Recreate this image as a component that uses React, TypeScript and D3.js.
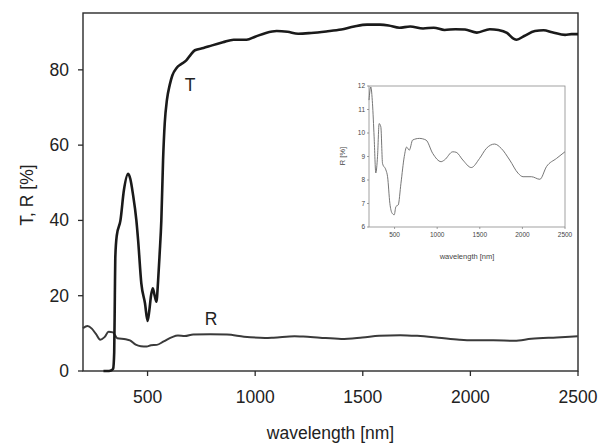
import React from "react";
import * as d3 from "d3";

const tWave = [295, 320, 335, 340, 345, 348, 350, 357, 374, 390, 410, 420, 432, 448, 456, 471, 488, 500, 508, 516, 524, 533, 541, 549, 556, 564, 572, 580, 590, 603, 615, 635, 655, 680, 700, 720, 760, 800, 850, 900, 960, 1000, 1050, 1100, 1150, 1200, 1260, 1330, 1400, 1460, 1520, 1580, 1620, 1670, 1720, 1780, 1830, 1880, 1930, 1975, 2030, 2090, 2130, 2170, 2200, 2215, 2250, 2300, 2340, 2380, 2440, 2470, 2500];
const tVal = [0, 0, 0.3, 0.6, 5, 20, 30, 36, 40, 48, 52.4, 51, 47, 40, 34.8, 23.3, 18, 13.3, 16, 20, 22, 20, 18.4, 24, 31, 40, 56, 66, 72, 76, 78.5, 80.5, 81.5, 82.5, 84, 85.2, 85.8, 86.5, 87.3, 88, 88, 88.8, 89.8, 90.3, 90.1, 89.6, 89.8, 90.2, 90.7, 91.5, 92, 92, 91.8, 91.2, 91.5, 91, 91.2, 90.6, 90.8, 90.7, 89.9, 90.8, 90.6, 89.8, 88.3, 88, 89, 90.3, 90.5, 90, 89.3, 89.5, 89.5];

const rWave = [200, 221, 241, 260, 280, 300, 319, 339, 359, 398, 418, 445, 469, 496, 516, 543, 575, 614, 641, 673, 712, 791, 869, 948, 1046, 1085, 1183, 1223, 1301, 1400, 1498, 1576, 1674, 1753, 1851, 1949, 2008, 2106, 2205, 2283, 2401, 2499];
const rVal = [11.4, 11.96, 11.25, 9.84, 8.3, 9.0, 10.4, 10.26, 8.7, 8.43, 8.14, 7.0, 6.6, 6.52, 6.87, 6.94, 7.86, 9.0, 9.4, 9.27, 9.7, 9.77, 9.7, 9.13, 8.78, 8.85, 9.2, 9.18, 8.85, 8.53, 8.92, 9.34, 9.53, 9.34, 8.85, 8.29, 8.14, 8.14, 8.03, 8.57, 8.92, 9.2];

const mainXTicks = [500, 1000, 1500, 2000, 2500];
const mainYTicks = [0, 20, 40, 60, 80];
const insetXTicks = [500, 1000, 1500, 2000, 2500];
const insetYTicks = [6, 7, 8, 9, 10, 11, 12];

const FONT = "'Liberation Sans', Arial, sans-serif";

export default function App() {
  const x = d3.scaleLinear().domain([200, 2500]).range([83, 578]);
  const y = d3.scaleLinear().domain([0, 95.1]).range([371, 13]);
  const ix = d3.scaleLinear().domain([200, 2500]).range([369, 565]);
  const iy = d3.scaleLinear().domain([6, 12]).range([227, 86]);

  const tPts: [number, number][] = tWave.map((w, i) => [w, tVal[i]]);
  const rPts: [number, number][] = rWave.map((w, i) => [w, rVal[i]]);

  const lineMain = d3.line<[number, number]>().x(d => x(d[0])).y(d => y(d[1])).curve(d3.curveMonotoneX);
  const lineInset = d3.line<[number, number]>().x(d => ix(d[0])).y(d => iy(d[1])).curve(d3.curveMonotoneX);

  const axisColor = "#2a2a2a";
  const [x0, x1] = x.range();
  const [y0, y1] = y.range();

  return (
    <svg width={601} height={443} style={{ position: "absolute", left: 0, top: 0, background: "#fff" }} fontFamily={FONT}>
      <rect width={601} height={443} fill="#fff" />
      {/* main frame */}
      <rect x={x0} y={y1} width={x1 - x0} height={y0 - y1} fill="none" stroke={axisColor} strokeWidth={1.4} />
      {mainXTicks.map(t => (
        <g key={"mx" + t}>
          <line x1={x(t)} x2={x(t)} y1={y0} y2={y0 + 5} stroke={axisColor} strokeWidth={1.3} />
          <text x={x(t)} y={y0 + 32} textAnchor="middle" fontSize={17.5} fill="#222">{t}</text>
        </g>
      ))}
      {mainYTicks.map(t => (
        <g key={"my" + t}>
          <line x1={x0 - 5} x2={x0} y1={y(t)} y2={y(t)} stroke={axisColor} strokeWidth={1.3} />
          <text x={x0 - 14} y={y(t) + 6} textAnchor="end" fontSize={17.5} fill="#222">{t}</text>
        </g>
      ))}
      <text x={(x0 + x1) / 2} y={439} textAnchor="middle" fontSize={17.5} fill="#222">wavelength [nm]</text>
      <text transform={`translate(33,${(y0 + y1) / 2 + 3}) rotate(-90)`} textAnchor="middle" fontSize={17.5} fill="#222">T, R [%]</text>

      {/* inset */}
      <rect x={ix.range()[0]} y={iy.range()[1]} width={ix.range()[1] - ix.range()[0]} height={iy.range()[0] - iy.range()[1]} fill="#fff" stroke="#8a8a8a" strokeWidth={0.8} />
      {insetXTicks.map(t => (
        <g key={"ix" + t}>
          <line x1={ix(t)} x2={ix(t)} y1={iy.range()[0]} y2={iy.range()[0] + 2} stroke="#777" strokeWidth={0.7} />
          <text x={ix(t)} y={iy.range()[0] + 10} textAnchor="middle" fontSize={6.5} fill="#444">{t}</text>
        </g>
      ))}
      {insetYTicks.map(t => (
        <g key={"iy" + t}>
          <line x1={ix.range()[0] - 2} x2={ix.range()[0]} y1={iy(t)} y2={iy(t)} stroke="#777" strokeWidth={0.7} />
          <text x={ix.range()[0] - 4} y={iy(t) + 2.3} textAnchor="end" fontSize={6.5} fill="#444">{t}</text>
        </g>
      ))}
      <text x={(ix.range()[0] + ix.range()[1]) / 2} y={259} textAnchor="middle" fontSize={7.5} fill="#444">wavelength [nm]</text>
      <text transform={`translate(345,156) rotate(-90)`} textAnchor="middle" fontSize={7.5} fill="#444">R [%]</text>
      <path d={lineInset(rPts) || ""} fill="none" stroke="#666" strokeWidth={0.9} />

      {/* main curves */}
      <path d={lineMain(rPts) || ""} fill="none" stroke="#3a3a3a" strokeWidth={2} />
      <path d={lineMain(tPts) || ""} fill="none" stroke="#1a1a1a" strokeWidth={2.6} strokeLinejoin="round" />
      <text x={190} y={91} textAnchor="middle" fontSize={17.5} fill="#222">T</text>
      <text x={211} y={325} textAnchor="middle" fontSize={17.5} fill="#222">R</text>
    </svg>
  );
}
